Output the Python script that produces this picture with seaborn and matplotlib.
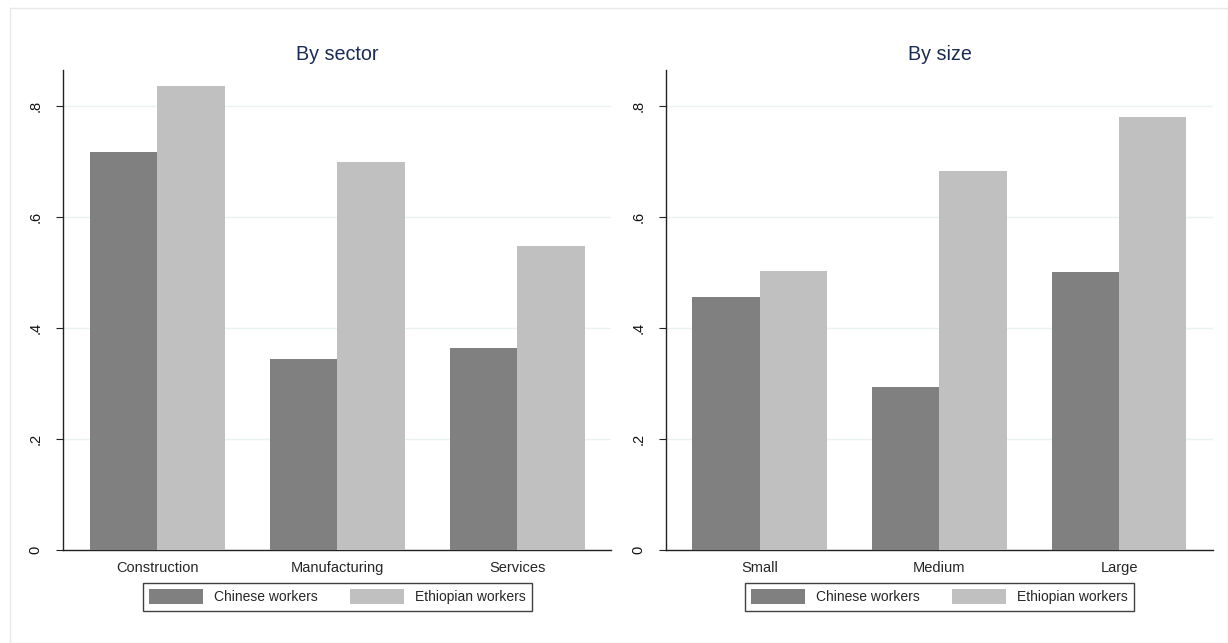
import matplotlib
matplotlib.use("Agg")
import matplotlib.pyplot as plt
import seaborn as sns
import pandas as pd
from matplotlib.patches import Rectangle

sectors = ["Construction", "Manufacturing", "Services"]
sector_chinese = [0.716, 0.344, 0.364]
sector_ethiopian = [0.836, 0.698, 0.547]

sizes = ["Small", "Medium", "Large"]
size_chinese = [0.456, 0.293, 0.500]
size_ethiopian = [0.502, 0.682, 0.780]

series = ["Chinese workers", "Ethiopian workers"]
colors = ["#808080", "#c0c0c0"]
yticks = [0, 0.2, 0.4, 0.6, 0.8]
ytick_labels = ["0", ".2", ".4", ".6", ".8"]

sns.set_theme(style="white")
plt.rcParams["font.family"] = ["Liberation Sans", "DejaVu Sans"]

def long_df(cats, a, b):
    rows = []
    for c, v in zip(cats, a):
        rows.append({"cat": c, "group": series[0], "value": v})
    for c, v in zip(cats, b):
        rows.append({"cat": c, "group": series[1], "value": v})
    return pd.DataFrame(rows)

fig = plt.figure(figsize=(12.28, 6.43), dpi=100)
fig.patches.append(Rectangle((0.008, 0.0), 0.992, 0.988, transform=fig.transFigure,
                             fill=False, edgecolor="#e8e8e8", linewidth=1))

panels = [
    ("By sector", sectors, sector_chinese, sector_ethiopian, [0.0517, 0.1446, 0.4459, 0.747]),
    ("By size", sizes, size_chinese, size_ethiopian, [0.5427, 0.1446, 0.4447, 0.747]),
]

for title, cats, a, b, pos in panels:
    ax = fig.add_axes(pos)
    df = long_df(cats, a, b)
    sns.barplot(data=df, x="cat", y="value", hue="group", order=cats,
                hue_order=series, palette=colors, width=0.75, saturation=1,
                linewidth=0, ax=ax, zorder=3)
    ax.set_xlim(-0.52, 2.52)
    ax.set_ylim(0, 0.865)
    ax.set_yticks(yticks)
    ax.set_yticklabels(ytick_labels, rotation=90, va="center", fontsize=10.5)
    ax.tick_params(axis="y", which="both", left=True, length=5, width=0.8,
                   color="#222222", pad=10)
    ax.tick_params(axis="x", bottom=False, labelsize=10.5, pad=2)
    for lab in ax.get_yticklabels():
        lab.set_color("#111111")
    ax.set_xlabel("")
    ax.set_ylabel("")
    ax.grid(axis="y", color="#eaf2f3", linewidth=1, zorder=0)
    ax.set_axisbelow(True)
    for s in ["top", "right"]:
        ax.spines[s].set_visible(False)
    for s in ["left", "bottom"]:
        ax.spines[s].set_color("#222222")
        ax.spines[s].set_linewidth(1)
    ax.set_title(title, fontsize=14.2, color="#1a2b55", pad=7)
    if ax.get_legend() is not None:
        ax.get_legend().remove()
    handles = [Rectangle((0, 0), 1, 1, facecolor=c, edgecolor="none") for c in colors]
    leg = ax.legend(handles, series, loc="upper center", bbox_to_anchor=(0.5, -0.069),
                    ncol=2, frameon=True, fancybox=False, fontsize=10,
                    handlelength=3.9, handleheight=1.22, columnspacing=2.3,
                    handletextpad=0.8, borderpad=0.45, borderaxespad=0)
    leg.get_frame().set_edgecolor("#111111")
    leg.get_frame().set_linewidth(1)

fig.savefig("out.png", dpi=100, facecolor="white")
